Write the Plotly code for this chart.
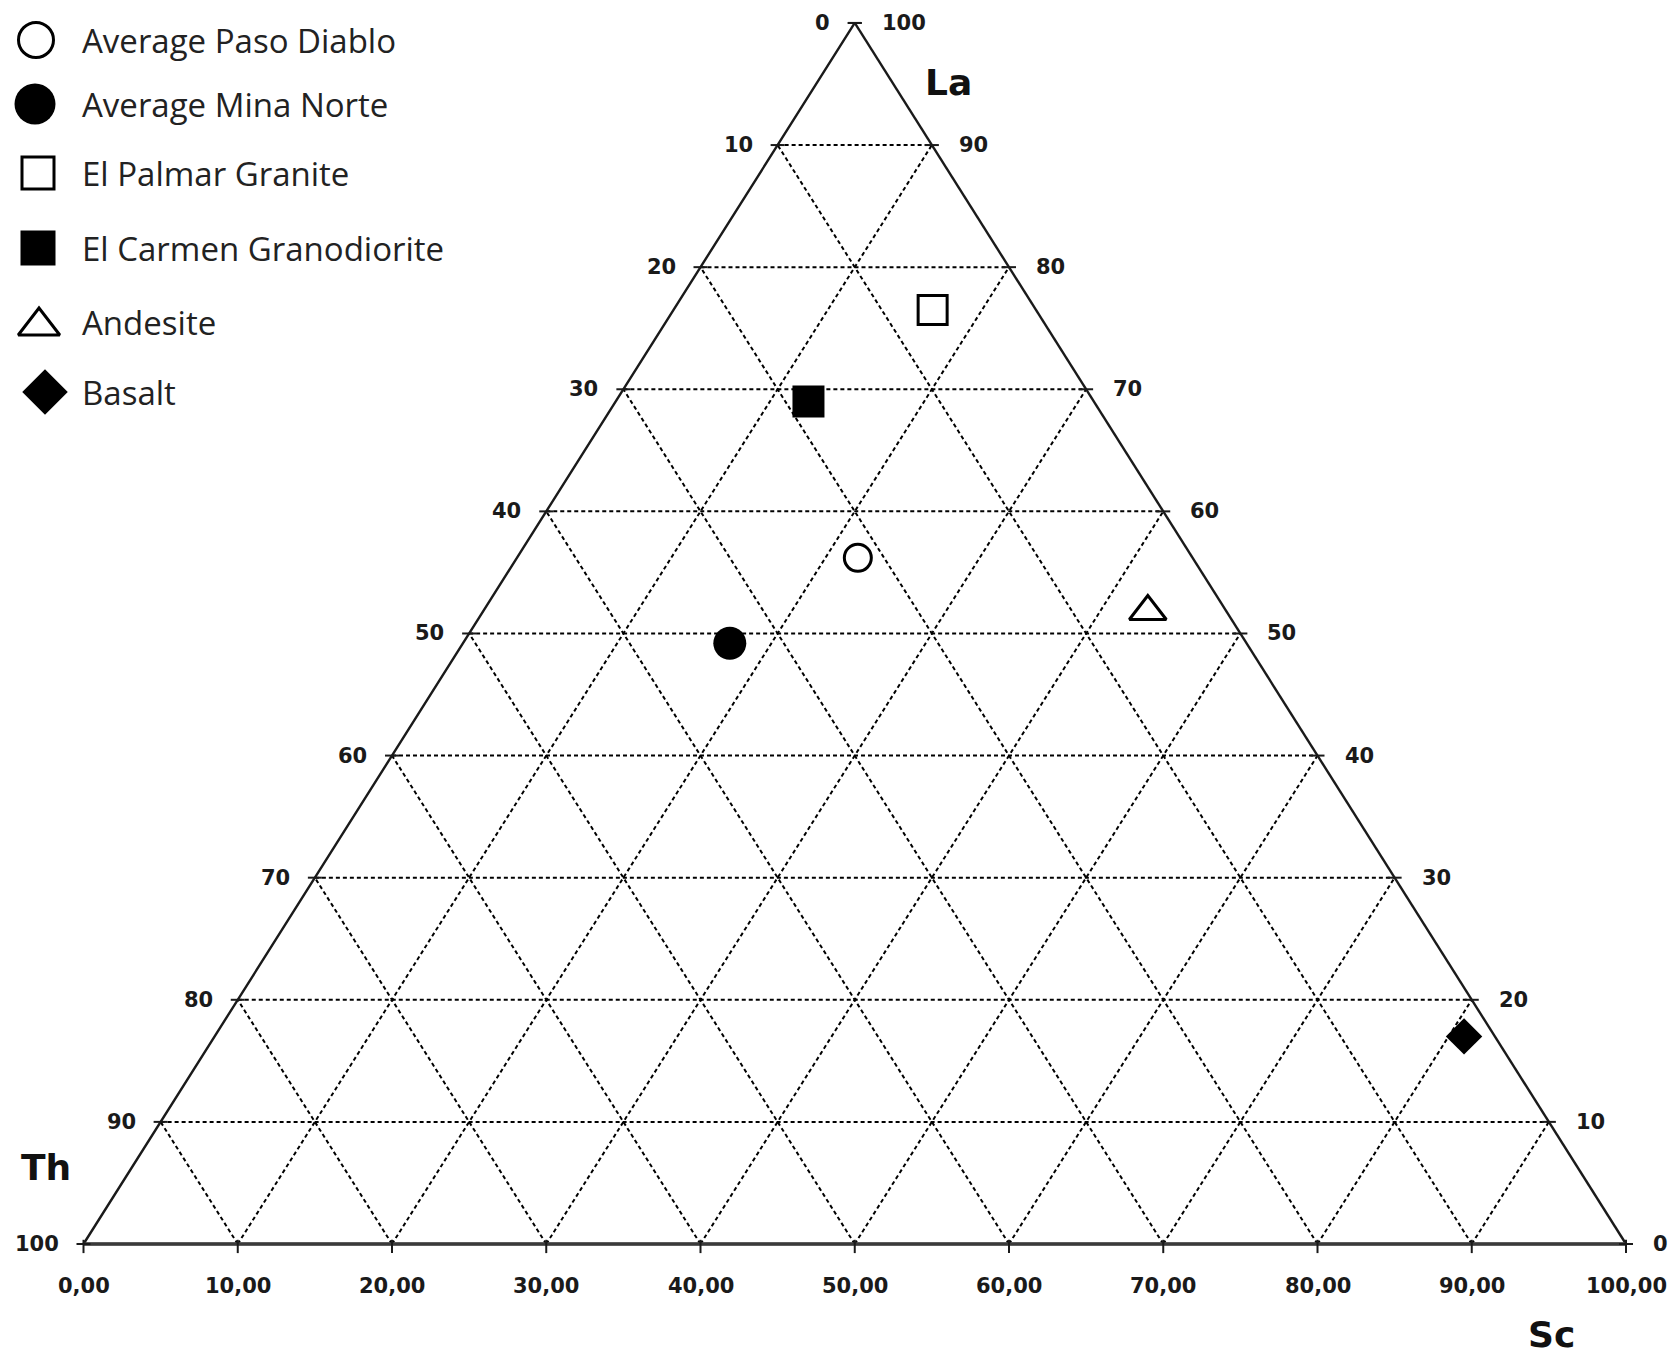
import plotly.graph_objects as go

# ---- sample compositions (percent La / Th / Sc) ----
names = ["Average Paso Diablo", "Average Mina Norte", "El Palmar Granite",
         "El Carmen Granodiorite", "Andesite", "Basalt"]
la = [56.2, 49.2, 76.5, 69.0, 51.8, 17.0]
th = [21.7, 33.5, 6.7, 18.5, 5.1, 2.0]
sc = [22.1, 17.3, 16.8, 12.5, 43.1, 81.0]

# ---- grid / tick values ----
ticks = list(range(0, 101, 10))
inner = list(range(10, 100, 10))

# ---- marker styles, one per sample ----
symbols = ["circle-open", "circle", "square-open", "square", "triangle-up-open", "diamond"]
plot_sizes = [27, 33, 29, 32, 32, 28]
legend_sizes = [35, 41, 32, 35, 36, 35]
line_w = [3, 0, 3, 0, 3, 0]

W, H = 1679, 1364
X_RANGE = [-5.413, 103.436]
Y_RANGE = [-9.828, 101.88]
PX_X = W / (X_RANGE[1] - X_RANGE[0])
PX_Y = H / (Y_RANGE[1] - Y_RANGE[0])

INK = "#1a1a1a"
TICK_FONT = dict(family="DejaVu Sans", size=21, color=INK, weight="bold")
TITLE_FONT = dict(family="DejaVu Sans", size=36, color="#111", weight="bold")
LEGEND_FONT = dict(family="Open Sans", size=33, color="#222")


def to_xy(la_v, sc_v):
    """Ternary (La, Sc) -> cartesian (x, y) with La at the top vertex."""
    return sc_v + la_v / 2.0, la_v


fig = go.Figure()

# ---- dashed grid ----
gx, gy = [], []
for v in inner:
    # constant La (horizontal)
    for p in (to_xy(v, 0), to_xy(v, 100 - v)):
        gx.append(p[0]); gy.append(p[1])
    gx.append(None); gy.append(None)
    # constant Sc (parallel to left edge)
    for p in (to_xy(0, v), to_xy(100 - v, v)):
        gx.append(p[0]); gy.append(p[1])
    gx.append(None); gy.append(None)
    # constant Th (parallel to right edge)
    for p in (to_xy(0, 100 - v), to_xy(100 - v, 0)):
        gx.append(p[0]); gy.append(p[1])
    gx.append(None); gy.append(None)
fig.add_trace(go.Scatter(x=gx, y=gy, mode="lines", hoverinfo="skip", showlegend=False,
                         line=dict(color="#000", width=2, dash="4px,3px")))

# ---- triangle outline ----
corners = [to_xy(100, 0), to_xy(0, 0), to_xy(0, 100)]
fig.add_trace(go.Scatter(x=[c[0] for c in corners], y=[c[1] for c in corners],
                         mode="lines", hoverinfo="skip", showlegend=False,
                         line=dict(color=INK, width=2.4)))
fig.add_trace(go.Scatter(x=[corners[2][0], corners[0][0]], y=[corners[2][1], corners[0][1]],
                         mode="lines", hoverinfo="skip", showlegend=False,
                         line=dict(color=INK, width=2.4)))
fig.add_trace(go.Scatter(x=[corners[1][0], corners[2][0]], y=[0, 0],
                         mode="lines", hoverinfo="skip", showlegend=False,
                         line=dict(color="#3a3a3a", width=3.5)))

# ---- small tick marks on the edges ----
hx = 7 / PX_X
vy = 7 / PX_Y
tx, ty = [], []
for v in ticks:
    for edge_sc in (0, 100 - v):
        x0, y0 = to_xy(v, edge_sc)
        tx += [x0 - hx, x0 + hx, None]; ty += [y0, y0, None]
    x0, y0 = to_xy(0, v)
    tx += [x0, x0, None]; ty += [y0 - vy * 1.3, y0 + vy * 0.6, None]
fig.add_trace(go.Scatter(x=tx, y=ty, mode="lines", hoverinfo="skip", showlegend=False,
                         line=dict(color=INK, width=2)))

# ---- tick labels ----
ann = []
for v in ticks:
    # left edge: Th value, on the horizontal La line
    x0, y0 = to_xy(100 - v, 0)
    ann.append(dict(x=x0, y=y0, text=str(v), xanchor="right", yanchor="middle",
                    xshift=-23, showarrow=False, font=TICK_FONT))
    # right edge: La value
    x0, y0 = to_xy(v, 100 - v)
    ann.append(dict(x=x0, y=y0, text=str(v), xanchor="left", yanchor="middle",
                    xshift=25, showarrow=False, font=TICK_FONT))
    # bottom edge: Sc value
    x0, y0 = to_xy(0, v)
    ann.append(dict(x=x0, y=y0, text=f"{v},00", xanchor="center", yanchor="middle",
                    yshift=-42, showarrow=False, font=TICK_FONT))

# ---- vertex titles ----
ann.append(dict(x=56.1, y=95.1, text="La", showarrow=False, font=TITLE_FONT))
ann.append(dict(x=-2.43, y=6.3, text="Th", showarrow=False, font=TITLE_FONT))
ann.append(dict(x=95.2, y=-7.45, text="Sc", showarrow=False, font=TITLE_FONT))

# ---- samples ----
for i, n in enumerate(names):
    x0, y0 = to_xy(la[i], sc[i])
    fig.add_trace(go.Scatter(
        x=[x0], y=[y0], mode="markers", name=n, showlegend=False,
        hovertemplate=f"{n}<br>La {la[i]}%<br>Th {th[i]}%<br>Sc {sc[i]}%<extra></extra>",
        marker=dict(symbol=symbols[i], size=plot_sizes[i], color="black",
                    line=dict(color="black", width=line_w[i]))))

# ---- key (drawn on a pixel-scaled overlay axis) ----
key_rows = [40, 104, 173, 248, 322, 392]
key_marker_x = [36, 35, 38, 38, 39, 45]
key_text_x = 80
for i, n in enumerate(names):
    fig.add_trace(go.Scatter(
        x=[key_marker_x[i]], y=[key_rows[i] + (4 if symbols[i].startswith("triangle") else 0)],
        xaxis="x2", yaxis="y2", mode="markers", showlegend=False, hoverinfo="skip",
        marker=dict(symbol=symbols[i], size=legend_sizes[i], color="black",
                    line=dict(color="black", width=line_w[i]))))
    ann.append(dict(x=key_text_x, y=key_rows[i], xref="x2", yref="y2", text=n,
                    xanchor="left", yanchor="middle", showarrow=False, font=LEGEND_FONT))

fig.update_layout(
    width=W, height=H,
    margin=dict(l=0, r=0, t=0, b=0),
    paper_bgcolor="white", plot_bgcolor="rgba(0,0,0,0)",
    showlegend=False,
    annotations=ann,
    xaxis=dict(range=X_RANGE, visible=False, fixedrange=True),
    yaxis=dict(range=Y_RANGE, visible=False, fixedrange=True),
    xaxis2=dict(range=[0, W], visible=False, overlaying="x", fixedrange=True),
    yaxis2=dict(range=[H, 0], visible=False, overlaying="y", fixedrange=True),
)

fig.write_html("out.html")
